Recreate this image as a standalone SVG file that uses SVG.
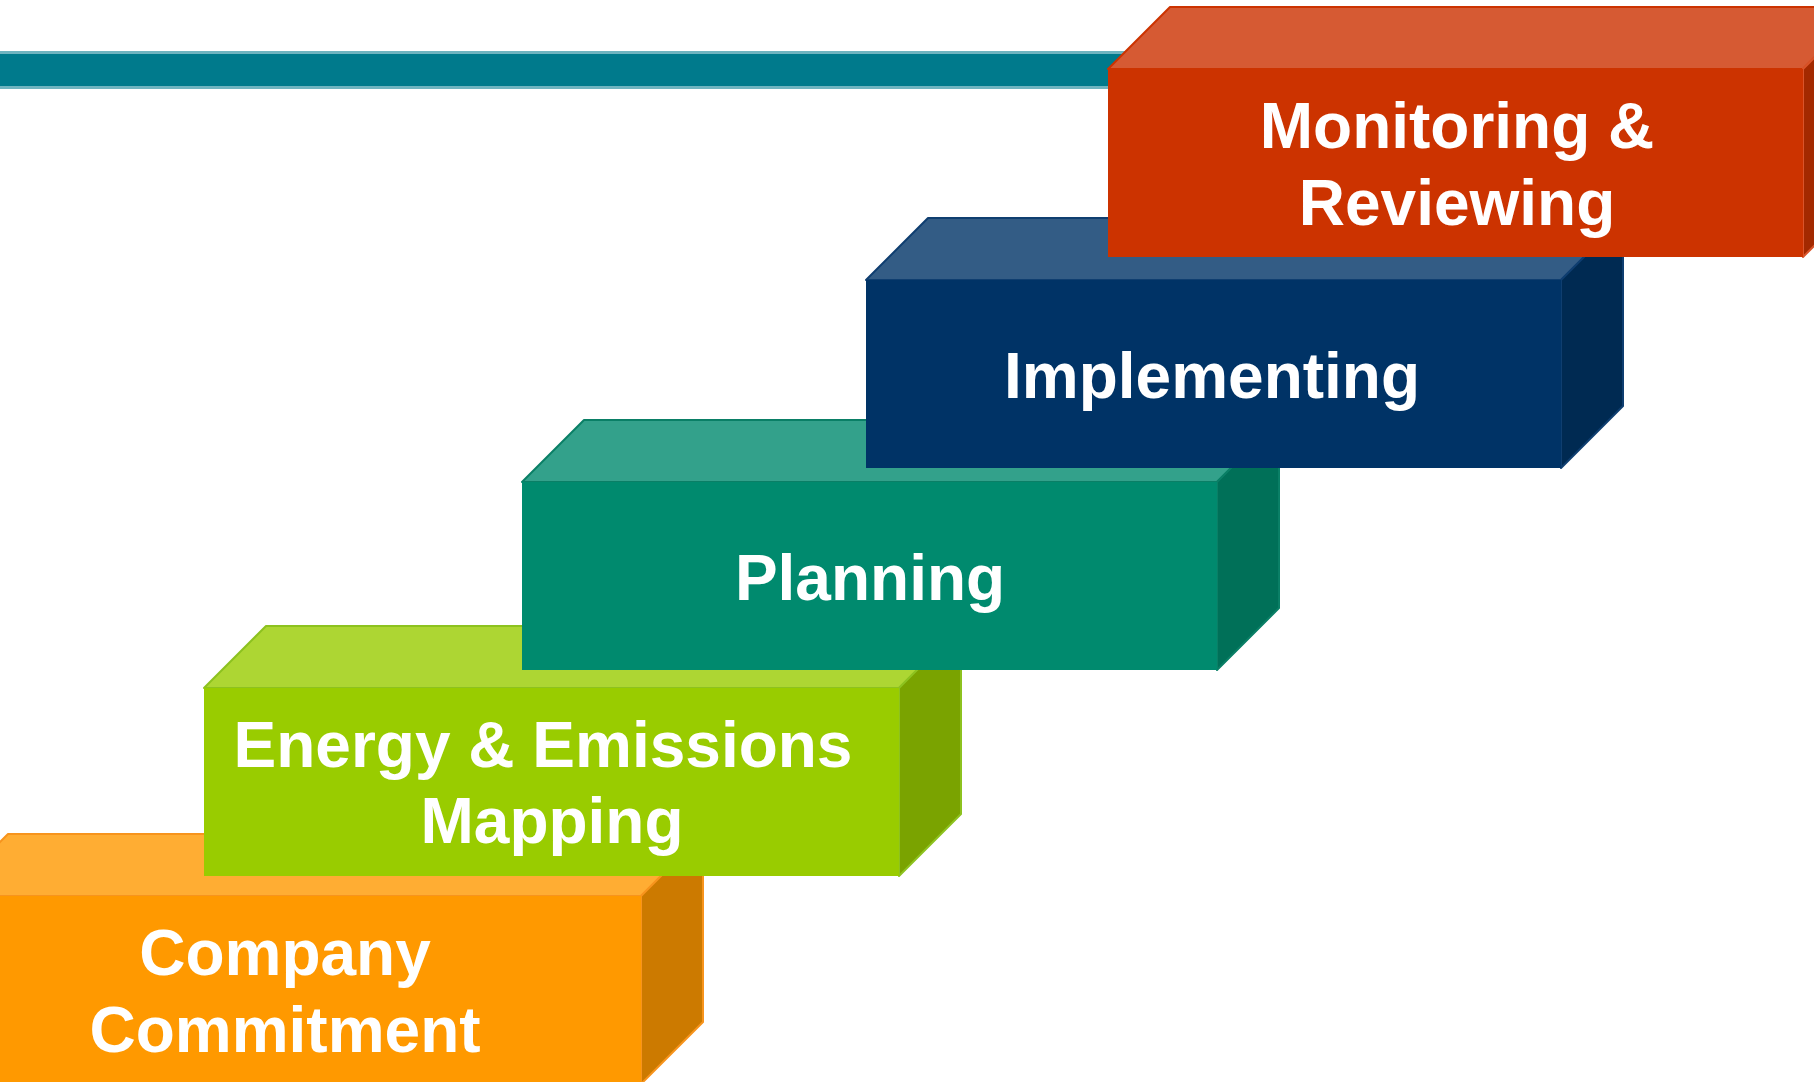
<svg xmlns="http://www.w3.org/2000/svg" width="1814" height="1082" viewBox="0 0 1814 1082">
<style>
  .lbl { font-family: "Liberation Sans", Arial, sans-serif; font-weight: bold; font-size: 64px; fill: #FFFFFF; text-anchor: middle; }
  .edge { stroke-width: 2; stroke-linejoin: round; }
</style>
<rect x="0" y="0" width="1814" height="1082" fill="#FFFFFF"/>
<g id="bar">
  <rect x="0" y="52" width="1130" height="36" fill="#007A8C"/>
  <rect x="0" y="51" width="1130" height="3" fill="#6FB4C0"/>
  <rect x="0" y="86" width="1130" height="3" fill="#6FB4C0"/>
</g>
<g id="node-company">
  <polygon points="-54,896 8,834 703,834 641,896" fill="#FFAD33" stroke="#F7941D" class="edge"/>
  <polygon points="641,896 703,834 703,1022 641,1084" fill="#CC7A00" stroke="#F7941D" class="edge"/>
  <rect x="-54" y="896" width="695" height="188" fill="#FF9900"/>
  <text class="lbl" x="285" y="975">Company</text>
  <text class="lbl" x="285" y="1052">Commitment</text>
</g>
<g id="node-energy">
  <polygon points="204,688 266,626 961,626 899,688" fill="#ADD633" stroke="#8DC21F" class="edge"/>
  <polygon points="899,688 961,626 961,814 899,876" fill="#7AA300" stroke="#8DC21F" class="edge"/>
  <rect x="204" y="688" width="695" height="188" fill="#99CC00"/>
  <text class="lbl" x="543" y="767">Energy &amp; Emissions</text>
  <text class="lbl" x="552" y="843">Mapping</text>
</g>
<g id="node-planning">
  <polygon points="522,482 584,420 1279,420 1217,482" fill="#33A18B" stroke="#0A7F66" class="edge"/>
  <polygon points="1217,482 1279,420 1279,608 1217,670" fill="#007058" stroke="#0A7F66" class="edge"/>
  <rect x="522" y="482" width="695" height="188" fill="#008A6E"/>
  <text class="lbl" x="870" y="600">Planning</text>
</g>
<g id="node-implementing">
  <polygon points="866,280 928,218 1623,218 1561,280" fill="#335C85" stroke="#0F3E70" class="edge"/>
  <polygon points="1561,280 1623,218 1623,406 1561,468" fill="#002A52" stroke="#0F3E70" class="edge"/>
  <rect x="866" y="280" width="695" height="188" fill="#003366"/>
  <text class="lbl" x="1212" y="398">Implementing</text>
</g>
<g id="node-monitoring">
  <polygon points="1108,69 1170,7 1865,7 1803,69" fill="#D65A33" stroke="#CC3300" class="edge"/>
  <polygon points="1803,69 1865,7 1865,195 1803,257" fill="#A32900" stroke="#D9542A" class="edge"/>
  <rect x="1108" y="69" width="695" height="188" fill="#CC3300"/>
  <text class="lbl" x="1457" y="148">Monitoring &amp;</text>
  <text class="lbl" x="1457" y="225">Reviewing</text>
</g>
<g id="connectors"></g>
</svg>
